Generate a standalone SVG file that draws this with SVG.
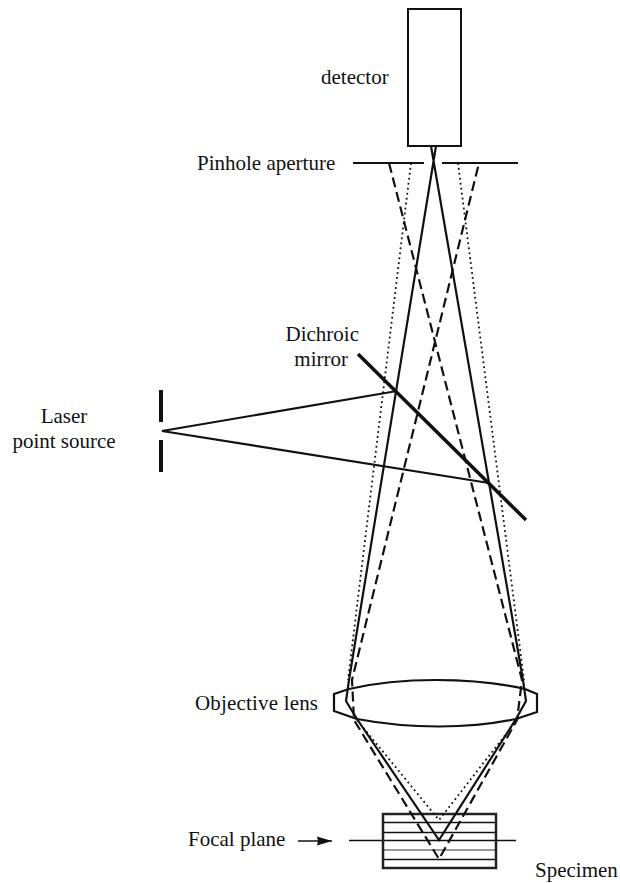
<svg xmlns="http://www.w3.org/2000/svg" width="620" height="883" viewBox="0 0 620 883">
<style>
text{font-family:"Liberation Serif","Times New Roman",serif;font-size:21px;fill:#111}
.s{fill:none;stroke:#111;stroke-width:2.2}
.t{fill:none;stroke:#111;stroke-width:1.5}
.d{fill:none;stroke:#111;stroke-width:2.200;stroke-dasharray:10 5}
.o{fill:none;stroke:#111;stroke-width:1.800;stroke-dasharray:1.8 3.2}
</style>
<defs><marker id="ah" markerWidth="16" markerHeight="10" refX="15" refY="5" orient="auto" markerUnits="userSpaceOnUse"><path d="M0 0.500L15 5L0 9.500L1 5Z" fill="#111"/></marker></defs>
<rect width="620" height="883" fill="#fff"/>
<g id="detector"><rect x="408" y="9" width="53" height="137" fill="#fff" stroke="#111" stroke-width="2"/><text x="321" y="84">detector</text></g>
<g id="pinhole"><path class="s" d="M353 163H424M442 163H518"/><text x="197" y="170">Pinhole aperture</text></g>
<g id="objective-lens"><path class="s" d="M349 689C400 677 472 677 525 689M357 719C410 729 470 729 516 719M349 689L334 694V711L357 719M525 689L537 694V712L516 719"/><text x="195" y="710" textLength="123">Objective lens</text></g>
<g id="specimen"><path d="M383 822.500H496M383 832.500H496M383 859.500H496" class="t"/><path d="M383 850H496" stroke="#999" stroke-width="2"/><path class="t" d="M349 840.500H516"/><rect x="383" y="814" width="113" height="54" fill="none" stroke="#222" stroke-width="2.500"/><text x="535" y="877">Specimen</text></g>
<g id="focal-plane"><text x="188" y="846">Focal plane</text></g>
<g id="mirror"><path d="M358 354L526 520" fill="none" stroke="#111" stroke-width="3.500"/><text x="359" y="341" text-anchor="end">Dichroic</text><text x="348" y="366" text-anchor="end">mirror</text></g>
<g id="laser"><path d="M161 390V422M161 440V472" fill="none" stroke="#111" stroke-width="4"/><text x="64" y="423" text-anchor="middle">Laser</text><text x="64" y="448" text-anchor="middle">point source</text></g>
<g id="connectors">
<path class="s" d="M431 146L523 680L526 701L516 719L439 840L357 719L346 701L349 680L436 146"/>
<path class="d" d="M389 163L522 680L517 720L439 859L354 720L352 680L479 163"/>
<path class="o" d="M411 163L348 680M458 163L524 680M357 720L439 820L517 720"/>
<path class="s" d="M397 391L162 431L489 483"/>
<path d="M298 841H332" fill="none" stroke="#111" stroke-width="1.500" marker-end="url(#ah)"/>
</g>
</svg>
